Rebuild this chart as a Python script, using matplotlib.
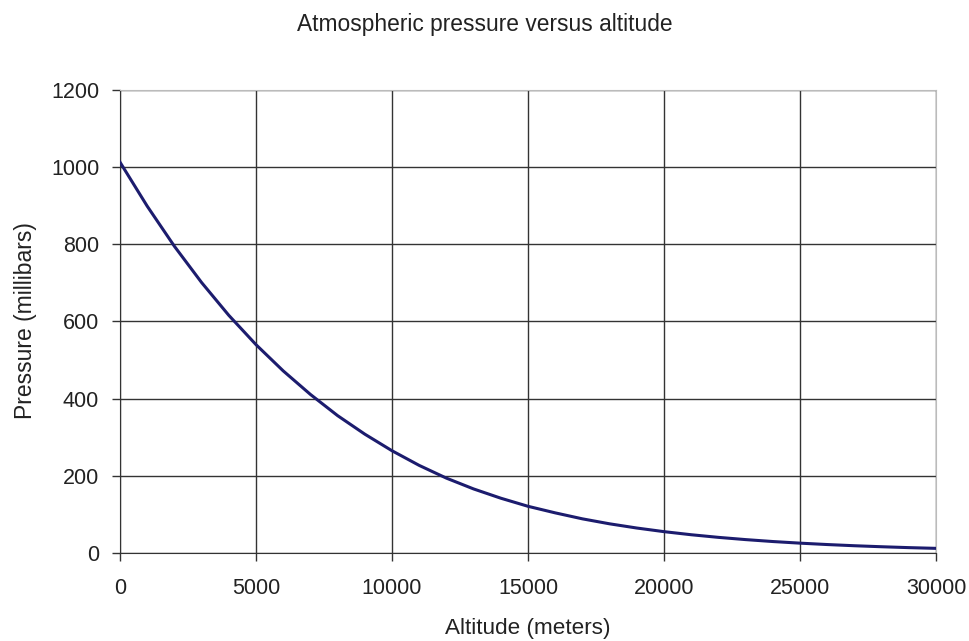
import matplotlib
matplotlib.use("Agg")
import matplotlib.pyplot as plt

# altitude (m) and pressure (mbar)
altitude = [0, 1000, 2000, 3000, 4000, 5000, 6000, 7000, 8000, 9000, 10000,
            11000, 12000, 13000, 14000, 15000, 16000, 17000, 18000, 19000, 20000,
            21000, 22000, 23000, 24000, 25000, 26000, 27000, 28000, 29000, 30000]
pressure = [1013, 899, 795, 701, 616, 540, 472, 411, 356, 308, 265,
            227, 194, 166, 142, 121, 104, 88.5, 75.6, 64.7, 55.3,
            47.3, 40.5, 34.7, 29.7, 25.5, 21.9, 18.8, 16.2, 13.9, 12.0]

xticks = [0, 5000, 10000, 15000, 20000, 25000, 30000]
yticks = [0, 200, 400, 600, 800, 1000, 1200]

plt.rcParams['font.family'] = ['Liberation Sans', 'DejaVu Sans']

fig = plt.figure(figsize=(9.7, 6.41), dpi=100)
ax = fig.add_axes([0.1237, 0.1373, 0.8413, 0.7223])

ax.plot(altitude, pressure, color='#1c1c6e', linewidth=2.2, zorder=3)

ax.set_xlim(0, 30000)
ax.set_ylim(0, 1200)
ax.set_xticks(xticks)
ax.set_yticks(yticks)
ax.grid(True, color='#333333', linewidth=1.0)
ax.set_axisbelow(True)

for s in ['top', 'right']:
    ax.spines[s].set_color('#bbbbbb')
for s in ['left', 'bottom']:
    ax.spines[s].set_color('#333333')
ax.tick_params(direction='out', length=6, width=1, color='#333333',
               labelsize=15.5, labelcolor='#222222')
ax.tick_params(axis='x', pad=12)
ax.tick_params(axis='y', pad=9)

ax.set_xlabel('Altitude (meters)', fontsize=16.2, color='#222222')
ax.set_ylabel('Pressure (millibars)', fontsize=16.5, color='#222222')
ax.xaxis.set_label_coords(0.5, -0.14)
ax.yaxis.set_label_coords(-0.102, 0.503)
fig.text(0.5, 0.961, 'Atmospheric pressure versus altitude', ha='center',
         va='center', fontsize=16.4, color='#222222')

fig.savefig('out.png', dpi=100)
